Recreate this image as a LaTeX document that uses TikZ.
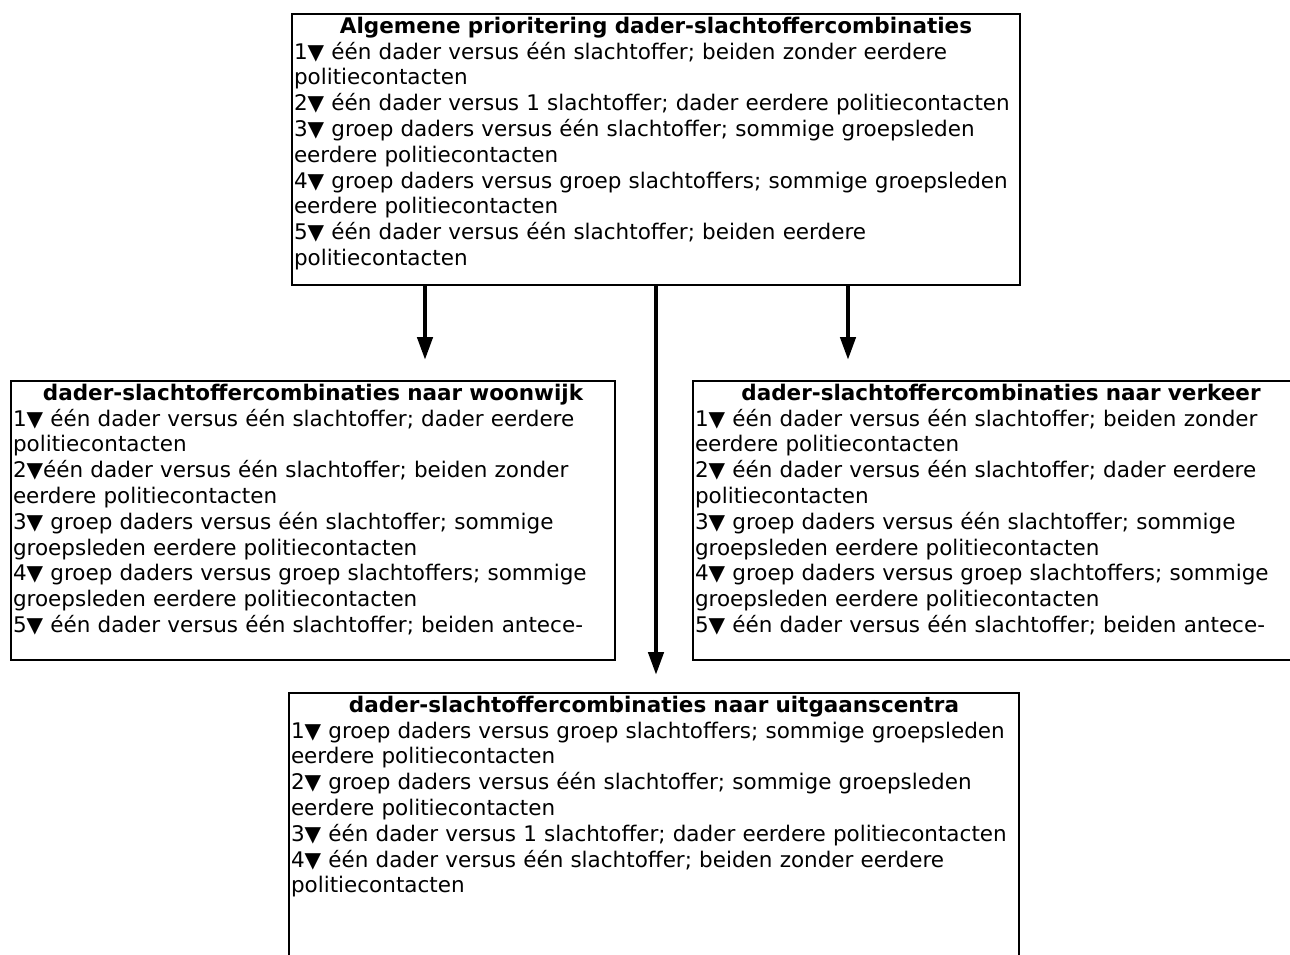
\documentclass[tikz,border=0pt]{standalone}
\usepackage{fontspec}
\setmainfont{DejaVu Sans}
\usetikzlibrary{arrows.meta}
\usetikzlibrary{calc}
\usetikzlibrary{positioning}

\begin{document}
\begin{tikzpicture}[
		x=1pt,
		y=-1pt,
		font=\fontsize{21.5pt}{25.8pt}\selectfont,
		>={Triangle[length=23pt,width=15pt]},
	]
		\tikzset{kader/.style={
			draw,
			rectangle,
			line width=2,
			anchor=north west,
			inner xsep=2,
			inner ysep=3,
			align=left,
		}}
		\tikzset{pijl/.style={
			->,
			line width=4.5,
		}}

		\useasboundingbox (0,0) rectangle (1290,955);
		\clip (0,0) rectangle (1290,955);

		\node[
			kader,
			text width=724,
			text depth=249,
		] (alg) at (291,13) {{\centering\bfseries Algemene prioritering dader-slachtoffercombinaties\par}
			1▼ één dader versus één slachtoffer; beiden zonder eerdere\\
			politiecontacten\\
			2▼ één dader versus 1 slachtoffer; dader eerdere politiecontacten\\
			3▼ groep daders versus één slachtoffer; sommige groepsleden\\
			eerdere politiecontacten\\
			4▼ groep daders versus groep slachtoffers; sommige groepsleden\\
			eerdere politiecontacten\\
			5▼ één dader versus één slachtoffer; beiden eerdere\\
			politiecontacten};

		\node[
			kader,
			text width=600,
			text depth=257,
		] (wijk) at (10,380) {{\centering\bfseries dader-slachtoffercombinaties naar woonwijk\par}
			1▼ één dader versus één slachtoffer; dader eerdere\\
			politiecontacten\\
			2▼één dader versus één slachtoffer; beiden zonder\\
			eerdere politiecontacten\\
			3▼ groep daders versus één slachtoffer; sommige\\
			groepsleden eerdere politiecontacten\\
			4▼ groep daders versus groep slachtoffers; sommige\\
			groepsleden eerdere politiecontacten\\
			5▼ één dader versus één slachtoffer; beiden antece-};

		\node[
			kader,
			text width=612,
			text depth=257,
		] (verkeer) at (692,380) {{\centering\bfseries dader-slachtoffercombinaties naar verkeer\par}
			1▼ één dader versus één slachtoffer; beiden zonder\\
			eerdere politiecontacten\\
			2▼ één dader versus één slachtoffer; dader eerdere\\
			politiecontacten\\
			3▼ groep daders versus één slachtoffer; sommige\\
			groepsleden eerdere politiecontacten\\
			4▼ groep daders versus groep slachtoffers; sommige\\
			groepsleden eerdere politiecontacten\\
			5▼ één dader versus één slachtoffer; beiden antece-};

		\node[
			kader,
			text width=726,
			text depth=320,
		] (uit) at (288,692) {{\centering\bfseries dader-slachtoffercombinaties naar uitgaanscentra\par}
			1▼ groep daders versus groep slachtoffers; sommige groepsleden\\
			eerdere politiecontacten\\
			2▼ groep daders versus één slachtoffer; sommige groepsleden\\
			eerdere politiecontacten\\
			3▼ één dader versus 1 slachtoffer; dader eerdere politiecontacten\\
			4▼ één dader versus één slachtoffer; beiden zonder eerdere\\
			politiecontacten};

		\draw[pijl, shorten >=20] ([xshift=-231]alg.south) -- ([xshift=-231]alg.south |- wijk.north);
		\draw[pijl, shorten >=20] ([xshift=192]alg.south) -- ([xshift=192]alg.south |- verkeer.north);
		\draw[pijl, shorten >=17] (alg.south) -- (alg.south |- uit.north);
	\end{tikzpicture}
\end{document}
